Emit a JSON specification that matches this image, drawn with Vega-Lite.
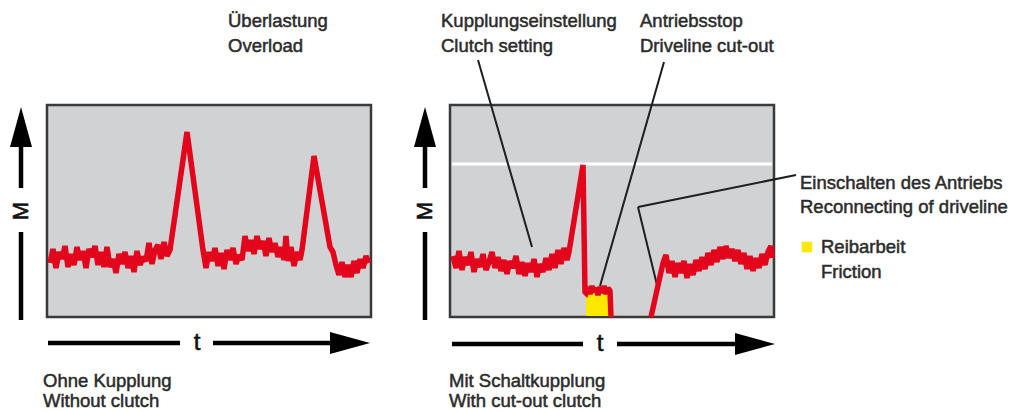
{
  "$schema": "https://vega.github.io/schema/vega-lite/v6.json",
  "width": 1017,
  "height": 412,
  "padding": 0,
  "background": "white",
  "config": {"view": {"stroke": null}},
  "datasets": {
    "boxes": [
      {"panel": "Ohne Kupplung", "x": 47, "x2": 371, "y": 105, "y2": 317},
      {"panel": "Mit Schaltkupplung", "x": 450, "x2": 774, "y": 105, "y2": 317}
    ],
    "limit": [{"x": 452, "x2": 772, "y": 164}],
    "friction": [
      {"x": 586, "y": 293}, {"x": 588, "y": 287}, {"x": 590, "y": 294}, {"x": 592, "y": 286},
      {"x": 594, "y": 292}, {"x": 596, "y": 288}, {"x": 598, "y": 295}, {"x": 600, "y": 287},
      {"x": 602, "y": 293}, {"x": 604, "y": 286}, {"x": 606, "y": 294}, {"x": 608, "y": 288},
      {"x": 610, "y": 291}
    ],
    "curves": [
      {"seg": "L", "x": 50, "y": 263}, {"seg": "L", "x": 53, "y": 249}, {"seg": "L", "x": 56, "y": 268}, {"seg": "L", "x": 59, "y": 252},
      {"seg": "L", "x": 62, "y": 259}, {"seg": "L", "x": 65, "y": 246}, {"seg": "L", "x": 68, "y": 267}, {"seg": "L", "x": 71, "y": 254},
      {"seg": "L", "x": 74, "y": 265}, {"seg": "L", "x": 77, "y": 247}, {"seg": "L", "x": 80, "y": 260}, {"seg": "L", "x": 83, "y": 251},
      {"seg": "L", "x": 86, "y": 268}, {"seg": "L", "x": 89, "y": 249}, {"seg": "L", "x": 92, "y": 257}, {"seg": "L", "x": 95, "y": 246},
      {"seg": "L", "x": 98, "y": 265}, {"seg": "L", "x": 101, "y": 252}, {"seg": "L", "x": 104, "y": 267}, {"seg": "L", "x": 107, "y": 247},
      {"seg": "L", "x": 110, "y": 267}, {"seg": "L", "x": 113, "y": 259}, {"seg": "L", "x": 116, "y": 273}, {"seg": "L", "x": 119, "y": 254},
      {"seg": "L", "x": 122, "y": 264}, {"seg": "L", "x": 125, "y": 252}, {"seg": "L", "x": 128, "y": 268}, {"seg": "L", "x": 131, "y": 256},
      {"seg": "L", "x": 134, "y": 272}, {"seg": "L", "x": 137, "y": 251}, {"seg": "L", "x": 140, "y": 265}, {"seg": "L", "x": 143, "y": 257},
      {"seg": "L", "x": 146, "y": 261}, {"seg": "L", "x": 149, "y": 243}, {"seg": "L", "x": 152, "y": 264}, {"seg": "L", "x": 155, "y": 250},
      {"seg": "L", "x": 158, "y": 245}, {"seg": "L", "x": 161, "y": 259}, {"seg": "L", "x": 164, "y": 242}, {"seg": "L", "x": 167, "y": 256},
      {"seg": "L", "x": 170, "y": 250}, {"seg": "L", "x": 187, "y": 132}, {"seg": "L", "x": 203, "y": 250},
      {"seg": "L", "x": 206, "y": 268}, {"seg": "L", "x": 209, "y": 252}, {"seg": "L", "x": 212, "y": 261}, {"seg": "L", "x": 215, "y": 248},
      {"seg": "L", "x": 218, "y": 266}, {"seg": "L", "x": 221, "y": 253}, {"seg": "L", "x": 224, "y": 269}, {"seg": "L", "x": 227, "y": 250},
      {"seg": "L", "x": 230, "y": 260}, {"seg": "L", "x": 233, "y": 248}, {"seg": "L", "x": 236, "y": 264}, {"seg": "L", "x": 239, "y": 255},
      {"seg": "L", "x": 242, "y": 260}, {"seg": "L", "x": 245, "y": 236}, {"seg": "L", "x": 248, "y": 251}, {"seg": "L", "x": 251, "y": 240},
      {"seg": "L", "x": 254, "y": 254}, {"seg": "L", "x": 257, "y": 236}, {"seg": "L", "x": 260, "y": 249}, {"seg": "L", "x": 263, "y": 241},
      {"seg": "L", "x": 266, "y": 256}, {"seg": "L", "x": 269, "y": 238}, {"seg": "L", "x": 272, "y": 252}, {"seg": "L", "x": 275, "y": 243},
      {"seg": "L", "x": 278, "y": 257}, {"seg": "L", "x": 281, "y": 247}, {"seg": "L", "x": 284, "y": 260}, {"seg": "L", "x": 286, "y": 236},
      {"seg": "L", "x": 288, "y": 261}, {"seg": "L", "x": 291, "y": 247}, {"seg": "L", "x": 294, "y": 266}, {"seg": "L", "x": 297, "y": 252},
      {"seg": "L", "x": 300, "y": 260}, {"seg": "L", "x": 302, "y": 250}, {"seg": "L", "x": 314, "y": 156}, {"seg": "L", "x": 330, "y": 247},
      {"seg": "L", "x": 333, "y": 252}, {"seg": "L", "x": 336, "y": 265}, {"seg": "L", "x": 339, "y": 275}, {"seg": "L", "x": 342, "y": 262},
      {"seg": "L", "x": 345, "y": 277}, {"seg": "L", "x": 348, "y": 265}, {"seg": "L", "x": 351, "y": 277}, {"seg": "L", "x": 354, "y": 261},
      {"seg": "L", "x": 357, "y": 273}, {"seg": "L", "x": 360, "y": 259}, {"seg": "L", "x": 363, "y": 268}, {"seg": "L", "x": 366, "y": 256},
      {"seg": "L", "x": 369, "y": 263},

      {"seg": "R1", "x": 453, "y": 256}, {"seg": "R1", "x": 456, "y": 268}, {"seg": "R1", "x": 459, "y": 251}, {"seg": "R1", "x": 462, "y": 270},
      {"seg": "R1", "x": 465, "y": 257}, {"seg": "R1", "x": 468, "y": 265}, {"seg": "R1", "x": 471, "y": 252}, {"seg": "R1", "x": 474, "y": 272},
      {"seg": "R1", "x": 477, "y": 259}, {"seg": "R1", "x": 480, "y": 267}, {"seg": "R1", "x": 483, "y": 254}, {"seg": "R1", "x": 486, "y": 270},
      {"seg": "R1", "x": 489, "y": 262}, {"seg": "R1", "x": 492, "y": 252}, {"seg": "R1", "x": 495, "y": 268}, {"seg": "R1", "x": 498, "y": 257},
      {"seg": "R1", "x": 501, "y": 271}, {"seg": "R1", "x": 504, "y": 260}, {"seg": "R1", "x": 507, "y": 274}, {"seg": "R1", "x": 510, "y": 261},
      {"seg": "R1", "x": 513, "y": 268}, {"seg": "R1", "x": 516, "y": 256}, {"seg": "R1", "x": 519, "y": 274}, {"seg": "R1", "x": 522, "y": 262},
      {"seg": "R1", "x": 525, "y": 276}, {"seg": "R1", "x": 528, "y": 263}, {"seg": "R1", "x": 531, "y": 272}, {"seg": "R1", "x": 534, "y": 259},
      {"seg": "R1", "x": 537, "y": 277}, {"seg": "R1", "x": 540, "y": 264}, {"seg": "R1", "x": 543, "y": 272}, {"seg": "R1", "x": 546, "y": 258},
      {"seg": "R1", "x": 549, "y": 270}, {"seg": "R1", "x": 552, "y": 254}, {"seg": "R1", "x": 555, "y": 268}, {"seg": "R1", "x": 558, "y": 250},
      {"seg": "R1", "x": 561, "y": 264}, {"seg": "R1", "x": 564, "y": 248}, {"seg": "R1", "x": 567, "y": 260}, {"seg": "R1", "x": 569, "y": 252},
      {"seg": "R1", "x": 583, "y": 165}, {"seg": "R1", "x": 585, "y": 292},
      {"seg": "R1", "x": 586, "y": 293}, {"seg": "R1", "x": 588, "y": 287}, {"seg": "R1", "x": 590, "y": 294}, {"seg": "R1", "x": 592, "y": 286},
      {"seg": "R1", "x": 594, "y": 292}, {"seg": "R1", "x": 596, "y": 288}, {"seg": "R1", "x": 598, "y": 295}, {"seg": "R1", "x": 600, "y": 287},
      {"seg": "R1", "x": 602, "y": 293}, {"seg": "R1", "x": 604, "y": 286}, {"seg": "R1", "x": 606, "y": 294}, {"seg": "R1", "x": 608, "y": 288},
      {"seg": "R1", "x": 610, "y": 291}, {"seg": "R1", "x": 611, "y": 317},

      {"seg": "R2", "x": 651, "y": 317}, {"seg": "R2", "x": 663, "y": 263},
      {"seg": "R2", "x": 666, "y": 255}, {"seg": "R2", "x": 669, "y": 273}, {"seg": "R2", "x": 672, "y": 261}, {"seg": "R2", "x": 675, "y": 277},
      {"seg": "R2", "x": 678, "y": 263}, {"seg": "R2", "x": 681, "y": 273}, {"seg": "R2", "x": 684, "y": 261}, {"seg": "R2", "x": 687, "y": 278},
      {"seg": "R2", "x": 690, "y": 264}, {"seg": "R2", "x": 693, "y": 275}, {"seg": "R2", "x": 696, "y": 260}, {"seg": "R2", "x": 699, "y": 271},
      {"seg": "R2", "x": 702, "y": 257}, {"seg": "R2", "x": 705, "y": 269}, {"seg": "R2", "x": 708, "y": 253}, {"seg": "R2", "x": 711, "y": 265},
      {"seg": "R2", "x": 714, "y": 250}, {"seg": "R2", "x": 717, "y": 262}, {"seg": "R2", "x": 720, "y": 247}, {"seg": "R2", "x": 723, "y": 259},
      {"seg": "R2", "x": 726, "y": 246}, {"seg": "R2", "x": 729, "y": 258}, {"seg": "R2", "x": 732, "y": 249}, {"seg": "R2", "x": 735, "y": 261},
      {"seg": "R2", "x": 738, "y": 250}, {"seg": "R2", "x": 741, "y": 264}, {"seg": "R2", "x": 744, "y": 253}, {"seg": "R2", "x": 747, "y": 269},
      {"seg": "R2", "x": 750, "y": 256}, {"seg": "R2", "x": 753, "y": 271}, {"seg": "R2", "x": 756, "y": 258}, {"seg": "R2", "x": 759, "y": 268},
      {"seg": "R2", "x": 762, "y": 254}, {"seg": "R2", "x": 765, "y": 265}, {"seg": "R2", "x": 768, "y": 252}, {"seg": "R2", "x": 771, "y": 246},
      {"seg": "R2", "x": 772, "y": 258}
    ],
    "leaders": [
      {"x": 478, "y": 60, "x2": 532, "y2": 247},
      {"x": 664, "y": 62, "x2": 600, "y2": 286},
      {"x": 796, "y": 175, "x2": 638, "y2": 207},
      {"x": 638, "y": 207, "x2": 657, "y2": 285}
    ],
    "axisLines": [
      {"x": 21, "y": 145, "x2": 21, "y2": 188},
      {"x": 21, "y": 232, "x2": 21, "y2": 320},
      {"x": 425, "y": 145, "x2": 425, "y2": 188},
      {"x": 425, "y": 232, "x2": 425, "y2": 320},
      {"x": 48, "y": 343, "x2": 180, "y2": 343},
      {"x": 213, "y": 343, "x2": 334, "y2": 343},
      {"x": 452, "y": 344, "x2": 583, "y2": 344},
      {"x": 617, "y": 344, "x2": 738, "y2": 344}
    ],
    "headsUp": [{"x": 21, "y": 127}, {"x": 425, "y": 127}],
    "headsRight": [{"x": 350, "y": 343}, {"x": 755, "y": 344}],
    "axisM": [{"x": 21, "y": 211, "label": "M"}, {"x": 425, "y": 211, "label": "M"}],
    "axisT": [{"x": 197, "y": 343, "label": "t"}, {"x": 600, "y": 344, "label": "t"}],
    "legend": [{"x": 807, "y": 247}],
    "labels": [
      {"x": 228, "y": 27, "label": "Überlastung"},
      {"x": 228, "y": 52, "label": "Overload"},
      {"x": 441, "y": 27, "label": "Kupplungseinstellung"},
      {"x": 441, "y": 52, "label": "Clutch setting"},
      {"x": 640, "y": 27, "label": "Antriebsstop"},
      {"x": 640, "y": 52, "label": "Driveline cut-out"},
      {"x": 800, "y": 189, "label": "Einschalten des Antriebs"},
      {"x": 800, "y": 213, "label": "Reconnecting of driveline"},
      {"x": 821, "y": 253, "label": "Reibarbeit"},
      {"x": 821, "y": 278, "label": "Friction"},
      {"x": 43, "y": 387, "label": "Ohne Kupplung"},
      {"x": 43, "y": 407, "label": "Without clutch"},
      {"x": 449, "y": 387, "label": "Mit Schaltkupplung"},
      {"x": 449, "y": 407, "label": "With cut-out clutch"}
    ]
  },
  "encoding": {
    "x": {"field": "x", "type": "quantitative", "axis": null, "scale": {"domain": [0, 1017], "nice": false, "zero": false}},
    "y": {"field": "y", "type": "quantitative", "axis": null, "scale": {"domain": [0, 412], "reverse": true, "nice": false, "zero": false}}
  },
  "layer": [
    {
      "data": {"name": "boxes"},
      "mark": {"type": "rect", "fill": "#d1d2d4", "stroke": "#3a3a3a", "strokeWidth": 2.5},
      "encoding": {"x2": {"field": "x2"}, "y2": {"field": "y2"}}
    },
    {
      "data": {"name": "limit"},
      "mark": {"type": "rule", "stroke": "#ffffff", "strokeWidth": 3},
      "encoding": {"x2": {"field": "x2"}}
    },
    {
      "data": {"name": "friction"},
      "mark": {"type": "area", "color": "#ffe800", "opacity": 1},
      "encoding": {"y2": {"datum": 316}}
    },
    {
      "data": {"name": "leaders"},
      "mark": {"type": "rule", "stroke": "#1e1e1e", "strokeWidth": 2},
      "encoding": {"x2": {"field": "x2"}, "y2": {"field": "y2"}}
    },
    {
      "data": {"name": "curves"},
      "mark": {"type": "line", "color": "#e3051b", "strokeWidth": 5.5, "strokeJoin": "miter", "strokeMiterLimit": 2},
      "encoding": {"detail": {"field": "seg", "type": "nominal"}, "order": {"field": "x", "type": "quantitative"}}
    },
    {
      "data": {"name": "axisLines"},
      "mark": {"type": "rule", "stroke": "#000000", "strokeWidth": 4.5},
      "encoding": {"x2": {"field": "x2"}, "y2": {"field": "y2"}}
    },
    {
      "data": {"name": "headsUp"},
      "mark": {"type": "point", "shape": "M0,-1L0.55,1L-0.55,1Z", "size": 1600, "filled": true, "color": "#000000", "opacity": 1}
    },
    {
      "data": {"name": "headsRight"},
      "mark": {"type": "point", "shape": "M1,0L-1,-0.55L-1,0.55Z", "size": 1600, "filled": true, "color": "#000000", "opacity": 1}
    },
    {
      "data": {"name": "axisM"},
      "mark": {"type": "text", "font": "Liberation Sans", "fontSize": 22, "angle": 270, "align": "center", "baseline": "middle", "color": "#111111", "stroke": "#111111", "strokeWidth": 0.6},
      "encoding": {"text": {"field": "label"}}
    },
    {
      "data": {"name": "axisT"},
      "mark": {"type": "text", "font": "Liberation Sans", "fontSize": 24, "align": "center", "baseline": "middle", "color": "#111111", "stroke": "#111111", "strokeWidth": 0.6},
      "encoding": {"text": {"field": "label"}}
    },
    {
      "data": {"name": "legend"},
      "mark": {"type": "point", "shape": "square", "size": 110, "filled": true, "color": "#ffe800", "opacity": 1}
    },
    {
      "data": {"name": "labels"},
      "mark": {"type": "text", "font": "Liberation Sans", "fontSize": 18.5, "align": "left", "baseline": "alphabetic", "color": "#2b2b2b", "stroke": "#2b2b2b", "strokeWidth": 0.5},
      "encoding": {"text": {"field": "label"}}
    }
  ]
}
